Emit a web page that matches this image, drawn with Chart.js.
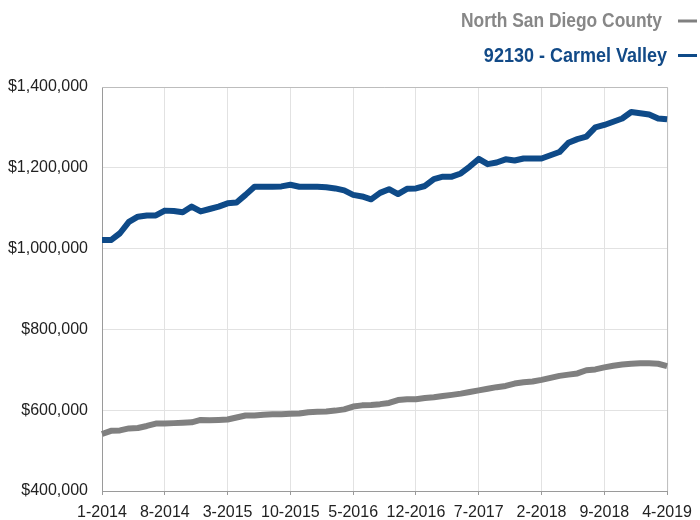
<!DOCTYPE html>
<html>
<head>
<meta charset="utf-8">
<script src="https://cdn.jsdelivr.net/npm/chart.js@4/dist/chart.umd.min.js"></script>
<style>
  html, body { margin: 0; padding: 0; background: #ffffff; }
  #wrap { width: 700px; height: 520px; }
</style>
</head>
<body>
<div id="wrap"><canvas id="c" width="700" height="520"></canvas></div>
<script>
const months = [
  "1-2014","2-2014","3-2014","4-2014","5-2014","6-2014","7-2014","8-2014","9-2014","10-2014","11-2014","12-2014",
  "1-2015","2-2015","3-2015","4-2015","5-2015","6-2015","7-2015","8-2015","9-2015","10-2015","11-2015","12-2015",
  "1-2016","2-2016","3-2016","4-2016","5-2016","6-2016","7-2016","8-2016","9-2016","10-2016","11-2016","12-2016",
  "1-2017","2-2017","3-2017","4-2017","5-2017","6-2017","7-2017","8-2017","9-2017","10-2017","11-2017","12-2017",
  "1-2018","2-2018","3-2018","4-2018","5-2018","6-2018","7-2018","8-2018","9-2018","10-2018","11-2018","12-2018",
  "1-2019","2-2019","3-2019","4-2019"
];

const tickLabels = ["1-2014","8-2014","3-2015","10-2015","5-2016","12-2016","7-2017","2-2018","9-2018","4-2019"];

const northSanDiegoCounty = [
  541000,549000,550000,555000,556000,561000,567000,567000,568000,569000,
  570000,576000,575000,576000,577000,582000,587000,587000,589000,590000,
  590000,591000,592000,595000,596000,597000,599000,602000,609000,612000,
  613000,615000,618000,625000,627000,627000,630000,632000,635000,638000,
  641000,645000,649000,653000,657000,660000,666000,669000,671000,675000,
  680000,685000,688000,691000,699000,701000,706000,710000,713000,715000,
  716000,716000,715000,709000
];

const carmelValley = [
  1021000,1021000,1038000,1066000,1079000,1082000,1082000,1094000,1093000,1090000,
  1104000,1092000,1098000,1104000,1112000,1114000,1133000,1153000,1153000,1153000,
  1154000,1158000,1153000,1153000,1153000,1152000,1149000,1144000,1133000,1129000,
  1122000,1138000,1147000,1135000,1148000,1149000,1155000,1172000,1178000,1178000,
  1186000,1203000,1222000,1209000,1213000,1221000,1218000,1223000,1223000,1223000,
  1231000,1239000,1262000,1271000,1277000,1300000,1306000,1314000,1322000,1338000,
  1335000,1332000,1322000,1320000
];

const seriesNames = ["North San Diego County", "92130 - Carmel Valley"];
const yTicks = [400000, 600000, 800000, 1000000, 1200000, 1400000];

const GRAY = "#808080";
const BLUE = "#0e4a88";
const TICK_FONT = { family: '"Liberation Sans", Arial, Helvetica, sans-serif', size: 16 };

const frameAndLegend = {
  id: "frameAndLegend",
  beforeDatasetsDraw(chart) {
    const { ctx, chartArea: a } = chart;
    ctx.save();
    ctx.strokeStyle = "#bdbdbd";
    ctx.lineWidth = 1;
    ctx.beginPath();
    ctx.moveTo(a.left, a.top + 0.5);
    ctx.lineTo(a.right + 0.5, a.top + 0.5);
    ctx.lineTo(a.right + 0.5, a.bottom);
    ctx.stroke();
    ctx.restore();
  },
  afterDraw(chart) {
    const { ctx } = chart;
    const ds = chart.data.datasets;
    const rows = [
      { ds: ds[0], textColor: "#878787", textRight: 662, baseline: 27, lineY: 21, sx: 0.87 },
      { ds: ds[1], textColor: "#124a87", textRight: 667, baseline: 62, lineY: 55.5, sx: 0.90 }
    ];
    rows.forEach(r => {
      ctx.save();
      ctx.font = 'bold 20px "Liberation Sans", Arial, Helvetica, sans-serif';
      ctx.textAlign = "right";
      ctx.textBaseline = "alphabetic";
      ctx.fillStyle = r.textColor;
      ctx.translate(r.textRight, r.baseline);
      ctx.scale(r.sx, 1);
      ctx.fillText(r.ds.label, 0, 0);
      ctx.restore();
      ctx.save();
      ctx.strokeStyle = r.ds.borderColor;
      ctx.lineWidth = 3;
      ctx.beginPath();
      ctx.moveTo(678, r.lineY);
      ctx.lineTo(697, r.lineY);
      ctx.stroke();
      ctx.restore();
    });
  }
};

new Chart(document.getElementById("c"), {
  type: "line",
  data: {
    labels: months,
    datasets: [
      {
        label: seriesNames[0],
        data: northSanDiegoCounty,
        borderColor: GRAY,
        backgroundColor: GRAY,
        borderWidth: 6,
        pointRadius: 0,
        tension: 0,
        borderJoinStyle: "round",
        borderCapStyle: "butt",
        fill: false
      },
      {
        label: seriesNames[1],
        data: carmelValley,
        borderColor: BLUE,
        backgroundColor: BLUE,
        borderWidth: 6,
        pointRadius: 0,
        tension: 0,
        borderJoinStyle: "round",
        borderCapStyle: "butt",
        fill: false
      }
    ]
  },
  options: {
    responsive: false,
    animation: false,
    devicePixelRatio: 1,
    layout: { padding: { left: 0, right: 25, top: 87, bottom: 0 } },
    plugins: {
      legend: { display: false },
      title: { display: false },
      tooltip: { enabled: false }
    },
    scales: {
      x: {
        type: "category",
        offset: false,
        grid: {
          color: c => (tickLabels.includes(months[c.index]) ? "#e2e2e2" : "rgba(0,0,0,0)"),
          tickColor: c => (tickLabels.includes(months[c.index]) ? "#9a9a9a" : "rgba(0,0,0,0)"),
          tickLength: 4,
          lineWidth: 1
        },
        border: { color: "#9a9a9a", width: 1 },
        ticks: {
          autoSkip: false,
          maxRotation: 0,
          minRotation: 0,
          padding: 8,
          color: "#222222",
          font: TICK_FONT,
          callback: function (v, i) {
            const l = months[i];
            return tickLabels.includes(l) ? l : "";
          }
        },
        afterFit: s => { s.height = 29; }
      },
      y: {
        min: yTicks[0],
        max: yTicks[yTicks.length - 1],
        afterBuildTicks: s => { s.ticks = yTicks.map(v => ({ value: v })); },
        grid: { color: "#e2e2e2", drawTicks: false, lineWidth: 1 },
        border: { color: "#9a9a9a", width: 1 },
        ticks: {
          padding: 14,
          color: "#222222",
          font: TICK_FONT,
          callback: v => "$" + Number(v).toLocaleString("en-US")
        },
        afterFit: s => { s.width = 102; }
      }
    }
  },
  plugins: [frameAndLegend]
});
</script>
</body>
</html>
